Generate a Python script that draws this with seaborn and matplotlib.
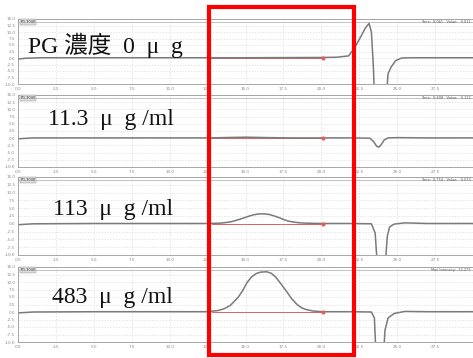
import matplotlib
matplotlib.use("Agg")
import matplotlib.pyplot as plt
import matplotlib.patches as patches
import seaborn as sns

W, H = 473, 358

# retention time (x) and signal (y)
t1 = [0, 0.5, 1.5, 5, 10, 15, 20, 21.0, 21.8, 22.2, 22.6, 22.9, 23.15, 23.3, 23.42, 23.5,
      24.3, 24.4, 24.6, 24.9, 25.3, 26, 28, 30]
v1 = [-0.4, -0.1, 0.1, 0.1, 0.1, 0.1, 0.2, 0.3, 0.8, 4, 8.2, 11.5, 13.3, 10, -2, -14,
      -14, -6, -3.5, -1, 0, 0.1, 0.1, 0.1]

t2 = [0, 1, 5, 10, 12.5, 13.5, 15, 16.5, 18, 20, 22, 23.2, 23.45, 23.65, 23.8, 23.95,
      24.15, 24.4, 25, 27, 30]
v2 = [-0.2, 0.1, 0.1, 0.1, 0.1, 0.2, 0.35, 0.2, 0.1, 0.1, 0.1, 0, -1.2, -2.8, -3.1, -2.2,
      -0.6, 0.1, 0.2, 0.1, 0.1]

t3 = [0, 1, 5, 10, 12.5, 13.3, 13.7, 14.0, 14.3, 14.6, 14.9, 15.2, 15.5, 15.8, 16.05, 16.3,
      16.6, 16.9, 17.2, 17.5, 17.8, 18.1, 18.5, 19.0, 20, 22, 23.3, 23.55, 23.7, 24.2,
      24.35, 24.5, 24.8, 25.5, 27, 30]
v3 = [-0.3, 0, 0.1, 0.1, 0.1, 0.2, 0.4, 0.6, 1.0, 1.4, 1.9, 2.4, 2.85, 3.1, 3.2, 3.15,
      2.95, 2.5, 2.0, 1.4, 0.9, 0.6, 0.35, 0.2, 0.1, 0.1, 0, -3, -14, -14,
      -4, -1, -0.1, 0.3, 0.1, 0.1]

t4 = [0, 1, 5, 10, 12.5, 13.2, 13.6, 14.0, 14.5, 14.8, 15.1, 15.4, 15.7, 16.0, 16.4, 16.7,
      17.0, 17.35, 17.7, 18.05, 18.4, 18.7, 19.0, 19.5, 20.1, 22, 23.3, 23.5, 23.6, 24.1,
      24.2, 24.4, 24.8, 25.5, 27, 30]
v4 = [-0.3, 0, 0.1, 0.1, 0.1, 0.5, 1.1, 2.2, 4.8, 7.0, 9.8, 11.7, 12.8, 13.3, 13.4, 12.9,
      11.6, 9.3, 6.9, 4.4, 2.5, 1.4, 0.8, 0.3, 0.1, 0.1, 0, -2, -14, -14,
      -6, -2, -0.5, 0.2, 0.1, 0.1]

# integration baselines (red)
base_start = [12.6, 12.6, 12.8, 12.8]
base_end = [20.1, 20.1, 20.1, 20.1]

labels = ['PG 濃度  0  μ  g', '11.3  μ  g /ml', '113  μ  g /ml', '483  μ  g /ml']
label_pos = [(28, 45), (48, 120), (53, 209), (52, 297)]
header_txt = ['Time:  0.061   Value:   0.011', 'Time:  0.408   Value:   0.112',
              'Time:  0.754   Value:   0.073', 'Max Intensity:  13.273']

x_ticks = [0, 2.5, 5, 7.5, 10, 12.5, 15, 17.5, 20, 22.5, 25, 27.5]
y_ticks = [-10, -7.5, -5, -2.5, 0, 2.5, 5, 7.5, 10, 12.5, 15]

# panel pixel boxes (top, bottom)
panels = [(19, 84), (95, 167), (177, 255), (267, 342)]
left, right = 18, 473

sns.set_style('whitegrid')
plt.rcParams['font.family'] = ['Liberation Serif', 'Noto Sans CJK JP']

fig = plt.figure(figsize=(W / 100, H / 100), dpi=100)
series = [(t1, v1), (t2, v2), (t3, v3), (t4, v4)]

for i, ((top, bot), (tt, vv)) in enumerate(zip(panels, series)):
    ax = fig.add_axes([left / W, 1 - bot / H, (right - left) / W, (bot - top) / H])
    ax.set_facecolor('white')
    sns.lineplot(x=tt, y=vv, ax=ax, color='#7a7a7a', linewidth=1.1, estimator=None, sort=False)
    ax.plot([base_start[i], base_end[i]], [0, 0], color='#e06060', linewidth=0.7, zorder=1)
    ax.plot([base_end[i]], [0], marker='o', markersize=2, color='#e06060')
    ax.set_xlim(0, 30)
    ax.set_ylim(-10, 15)
    ax.set_xticks(x_ticks)
    ax.set_yticks(y_ticks)
    ax.set_xticklabels([f'{x:.1f}' for x in x_ticks], fontsize=3, color='#666666',
                       family='DejaVu Sans')
    ax.set_yticklabels([f'{y:.1f}' for y in y_ticks], fontsize=3, color='#666666',
                       family='DejaVu Sans')
    ax.tick_params(axis='both', length=1.5, width=0.4, pad=0.5, colors='#888888')
    ax.grid(True, color='#dcdcdc', linestyle=(0, (2, 2)), linewidth=0.5)
    for s in ax.spines.values():
        s.set_color('#999999')
        s.set_linewidth(0.6)
    ax.axhline(14.0, color='#aaaaaa', linewidth=0.5)
    ax.text(0.005, 0.985, 'PG-3040', transform=ax.transAxes, fontsize=2.5, va='top',
            family='DejaVu Sans', color='#333333',
            bbox=dict(boxstyle='square,pad=0.2', fc='#dddddd', ec='#888888', lw=0.3))
    ax.text(0.995, 0.985, header_txt[i], transform=ax.transAxes, fontsize=2.5, va='top',
            ha='right', family='DejaVu Sans', color='#555555')
    fig.text(label_pos[i][0] / W, 1 - label_pos[i][1] / H, labels[i], fontsize=17,
             va='center', ha='left', color='#111111')

# red highlight box around the peak window
rect = patches.Rectangle((209 / W, 1 - 355 / H), (354 - 209) / W, (355 - 7) / H,
                         transform=fig.transFigure, fill=False, edgecolor='#ff0000',
                         linewidth=3, zorder=10)
fig.patches.append(rect)

fig.savefig('out.png', dpi=100, facecolor='white')
